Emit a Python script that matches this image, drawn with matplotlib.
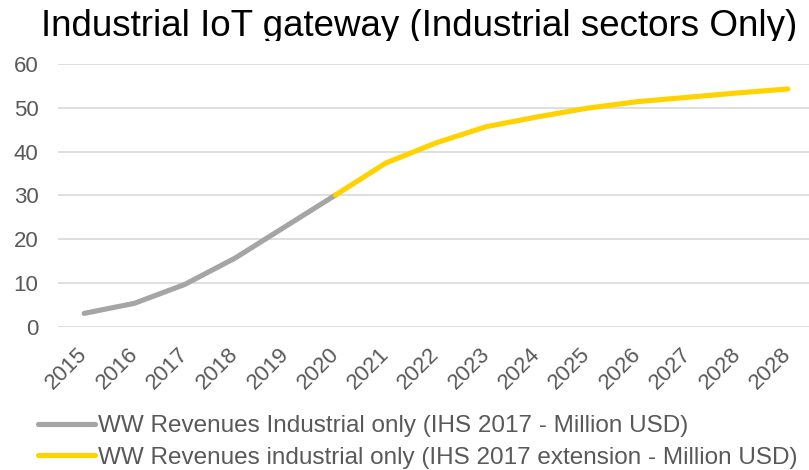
import numpy as np
import matplotlib
matplotlib.use("Agg")
from matplotlib import pyplot as plt
from matplotlib.transforms import Bbox, TransformedBbox, ScaledTranslation

# chart data
years = ["2015", "2016", "2017", "2018", "2019", "2020", "2021", "2022",
         "2023", "2024", "2025", "2026", "2027", "2028", "2028"]
ihs_values = [3.1, 5.4, 9.7, 15.7, 22.9, 30.1]
ext_values = [30.1, 37.4, 42.0, 45.7, 47.9, 49.9, 51.4, 52.4, 53.4, 54.3]

label_ihs = "WW Revenues Industrial only (IHS 2017 - Million USD)"
label_ext = "WW Revenues industrial only (IHS 2017 extension - Million USD)"
title = "Industrial IoT gateway (Industrial sectors Only)"

plt.rcParams['font.family'] = ['Liberation Sans', 'DejaVu Sans']
text_col = "#595959"

fig = plt.figure(figsize=(8.09, 4.70), dpi=100)
ax = fig.add_axes([0.0717, 0.3043, 0.9283, 0.5595])

x = np.arange(len(years))
ihs = np.full(len(years), np.nan)
ihs[:len(ihs_values)] = ihs_values
ext = np.full(len(years), np.nan)
ext[len(years) - len(ext_values):] = ext_values

ax.plot(x, ihs, color="#A5A5A5", lw=3.7, solid_capstyle="round", label=label_ihs)
ax.plot(x, ext, color="#FFD200", lw=3.7, solid_capstyle="round", label=label_ext)

ax.set_ylim(0, 60)
ax.set_yticks(range(0, 61, 10))
ax.set_xlim(-0.52, 14.42)
ax.set_xticks(x)
ax.set_xticklabels(years, rotation=45, ha="right", rotation_mode="anchor")
ax.grid(axis="y", color="#D9D9D9", lw=1.2)
ax.set_axisbelow(True)
for s in ax.spines.values():
    s.set_visible(False)
ax.tick_params(axis="both", length=0, labelsize=16, colors=text_col)
ax.tick_params(axis="y", pad=14)
ax.tick_params(axis="x", pad=12)

# nudge the rotated year labels a bit to the left
shift = ScaledTranslation(-7 / 100, 0, fig.dpi_scale_trans)
for lbl in ax.get_xticklabels():
    lbl.set_transform(lbl.get_transform() + shift)

# title, cut off just below the baseline like the original
t = fig.text(0.518, 1 - 35.5 / 470, title, ha="center", va="baseline",
             fontsize=26.5, color="black")
t.set_clip_box(TransformedBbox(Bbox([[0, 1 - 41 / 470], [1, 1]]), fig.transFigure))
t.set_clip_on(True)

fig.legend(loc="lower left", bbox_to_anchor=(0.020, -0.044), frameon=False,
           fontsize=17.5, labelcolor=text_col, handlelength=2.35, handletextpad=0.12,
           labelspacing=0.4)

fig.savefig("out.png", dpi=100)
